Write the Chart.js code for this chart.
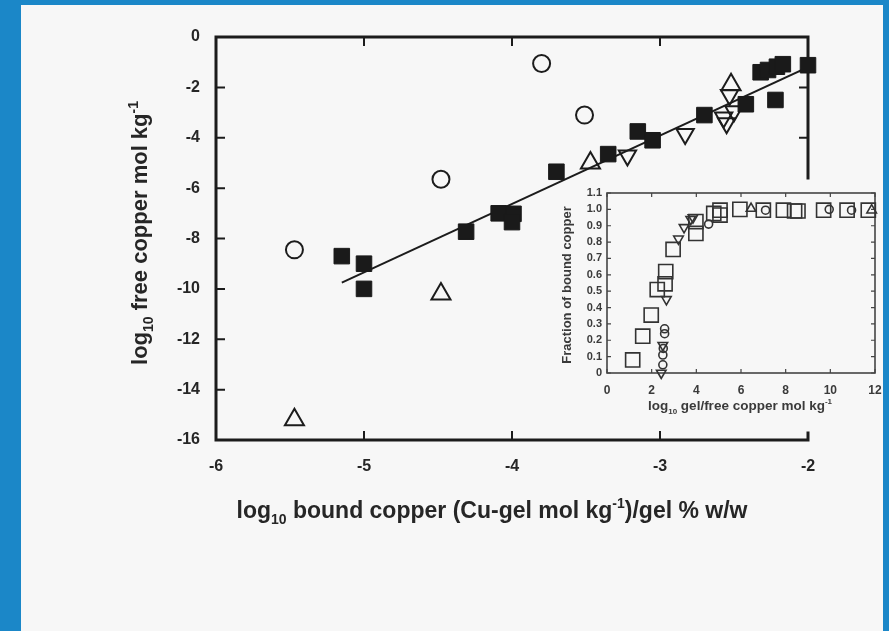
<!DOCTYPE html>
<html>
<head>
<meta charset="utf-8">
<script src="https://cdn.jsdelivr.net/npm/chart.js@4.4.1/dist/chart.umd.min.js"></script>
<style>
  html, body { margin: 0; padding: 0; }
  body { width: 889px; height: 631px; background: #1b87c8; position: relative; overflow: hidden; }
  #paper { position: absolute; left: 21px; top: 5px; width: 862px; height: 626px; background: #f7f7f7; }
  #main { position: absolute; left: 0; top: 0; }
  #inset { position: absolute; left: 550px; top: 178px; }
</style>
</head>
<body>
<div id="paper"></div>
<canvas id="main" width="889" height="631"></canvas>
<canvas id="inset" width="360" height="242"></canvas>
<script>
// ---- main plot data (log10 bound copper vs log10 free copper) ----
const squareX = [-5.15, -5.0, -5.0, -4.31, -4.09, -3.99, -4.0, -3.70, -3.35, -3.15, -3.05, -2.70, -2.42, -2.22, -2.32, -2.27, -2.21, -2.17, -2.0];
const squareY = [-8.7, -9.0, -10.0, -7.73, -7.0, -7.02, -7.35, -5.35, -4.65, -3.75, -4.1, -3.1, -2.67, -2.5, -1.4, -1.31, -1.18, -1.08, -1.12];
const circleX = [-5.47, -4.48, -3.80, -3.51];
const circleY = [-8.45, -5.65, -1.05, -3.10];
const upTriX = [-5.47, -4.48, -3.47, -2.52];
const upTriY = [-15.2, -10.2, -5.0, -1.9];
const downTriX = [-3.22, -2.83, -2.57, -2.55, -2.50, -2.53];
const downTriY = [-4.7, -3.85, -3.2, -3.42, -2.95, -2.3];
const fitX = [-5.15, -2.0];
const fitY = [-9.75, -1.2];

// ---- inset data (fraction of bound copper) ----
const inSquareX = [1.15, 1.6, 1.98, 2.25, 2.6, 2.63, 2.96, 3.98, 3.98, 4.78, 5.06, 5.06, 5.95, 7.0, 7.9, 8.4, 8.55, 9.7, 10.75, 11.7];
const inSquareY = [0.08, 0.225, 0.354, 0.51, 0.545, 0.62, 0.755, 0.853, 0.925, 0.975, 0.965, 0.995, 1.0, 0.995, 0.995, 0.99, 0.99, 0.995, 0.995, 0.995];
const inCircleX = [2.5, 2.5, 2.52, 2.58, 2.58, 4.55, 7.1, 9.95, 10.95];
const inCircleY = [0.05, 0.11, 0.15, 0.24, 0.27, 0.91, 0.995, 1.0, 0.995];
const inDownX = [2.43, 2.5, 2.66, 3.2, 3.45, 3.75, 3.85];
const inDownY = [0.0, 0.17, 0.45, 0.82, 0.89, 0.94, 0.95];
const inUpX = [6.45, 11.85];
const inUpY = [1.005, 0.995];

const mainXTicks = [-6, -5, -4, -3, -2];
const mainYTicks = [0, -2, -4, -6, -8, -10, -12, -14, -16];
const insetXTicks = [0, 2, 4, 6, 8, 10, 12];

const FONT = '"Liberation Sans", Arial, sans-serif';
const INK = '#1c1c1c';
const TEXT = '#262626';
const INSET_INK = '#444';

const pts = (xs, ys) => xs.map((x, i) => ({ x: x, y: ys[i] }));

// draws text with subscript / superscript pieces
function drawRich(ctx, parts, size, x, y, color) {
  const small = Math.round(size * 0.62);
  let w = 0;
  parts.forEach(([t, k]) => {
    ctx.font = 'bold ' + (k ? small : size) + 'px ' + FONT;
    w += ctx.measureText(t).width;
  });
  let cx = x - w / 2;
  ctx.fillStyle = color;
  ctx.textBaseline = 'alphabetic';
  ctx.textAlign = 'left';
  parts.forEach(([t, k]) => {
    ctx.font = 'bold ' + (k ? small : size) + 'px ' + FONT;
    const dy = k === 1 ? size * 0.28 : k === 2 ? -size * 0.42 : 0;
    ctx.fillText(t, cx, y + dy);
    cx += ctx.measureText(t).width;
  });
}

const mainFrame = {
  id: 'mainFrame',
  beforeDatasetsDraw(chart) {
    const { ctx, chartArea: a, scales: { x, y } } = chart;
    ctx.save();
    ctx.strokeStyle = INK;
    ctx.lineWidth = 3;
    ctx.lineCap = 'square';
    ctx.beginPath();
    ctx.moveTo(a.right, y.getPixelForValue(-5.6));
    ctx.lineTo(a.right, a.top);
    ctx.lineTo(a.left, a.top);
    ctx.lineTo(a.left, a.bottom);
    ctx.lineTo(a.right, a.bottom);
    ctx.lineTo(a.right, a.bottom - 7);
    ctx.stroke();
    ctx.lineWidth = 2;
    ctx.beginPath();
    mainYTicks.slice(1, -1).forEach(v => {
      const py = y.getPixelForValue(v);
      ctx.moveTo(a.left, py); ctx.lineTo(a.left + 8, py);
    });
    [-2, -4].forEach(v => {
      const py = y.getPixelForValue(v);
      ctx.moveTo(a.right, py); ctx.lineTo(a.right - 8, py);
    });
    mainXTicks.slice(1, -1).forEach(v => {
      const px = x.getPixelForValue(v);
      ctx.moveTo(px, a.top); ctx.lineTo(px, a.top + 8);
      ctx.moveTo(px, a.bottom); ctx.lineTo(px, a.bottom - 8);
    });
    ctx.stroke();
    ctx.restore();
  },
  afterDraw(chart) {
    const ctx = chart.ctx;
    ctx.save();
    drawRich(ctx, [['log', 0], ['10', 1], [' bound copper (Cu-gel mol kg', 0], ['-1', 2], [')/gel % w/w', 0]], 23, 492, 518, TEXT);
    ctx.translate(147, 233);
    ctx.rotate(-Math.PI / 2);
    drawRich(ctx, [['log', 0], ['10', 1], [' free copper mol kg', 0], ['-1', 2]], 22, 0, 0, TEXT);
    ctx.restore();
  }
};

const insetFrame = {
  id: 'insetFrame',
  beforeDatasetsDraw(chart) {
    const { ctx, chartArea: a, scales: { x, y } } = chart;
    ctx.save();
    ctx.strokeStyle = INSET_INK;
    ctx.lineWidth = 1.6;
    ctx.strokeRect(a.left, a.top, a.right - a.left, a.bottom - a.top);
    ctx.lineWidth = 1.2;
    ctx.beginPath();
    y.ticks.forEach(t => {
      const py = y.getPixelForValue(t.value);
      ctx.moveTo(a.left, py); ctx.lineTo(a.left + 4, py);
      ctx.moveTo(a.right, py); ctx.lineTo(a.right - 4, py);
    });
    insetXTicks.forEach(v => {
      const px = x.getPixelForValue(v);
      ctx.moveTo(px, a.bottom); ctx.lineTo(px, a.bottom - 4);
      ctx.moveTo(px, a.top); ctx.lineTo(px, a.top + 4);
    });
    ctx.stroke();
    ctx.restore();
  },
  afterDraw(chart) {
    const ctx = chart.ctx;
    ctx.save();
    drawRich(ctx, [['log', 0], ['10', 1], [' gel/free copper mol kg', 0], ['-1', 2]], 13.5, 190, 232, '#3a3a3a');
    ctx.translate(21, 107);
    ctx.rotate(-Math.PI / 2);
    drawRich(ctx, [['Fraction of bound copper', 0]], 13, 0, 0, '#3a3a3a');
    ctx.restore();
  }
};

const openMark = (label, data, style, r, extra) => Object.assign({
  label: label,
  data: data,
  pointStyle: style,
  pointRadius: r,
  backgroundColor: 'rgba(0,0,0,0)',
  borderColor: INK,
  borderWidth: 2,
  clip: false
}, extra || {});

// scale boxes get a fixed size so that the plot area lands where the figure has it
new Chart(document.getElementById('main'), {
  type: 'scatter',
  data: {
    datasets: [
      {
        label: 'Cu-gel',
        data: pts(squareX, squareY),
        pointStyle: 'rect',
        pointRadius: 11,
        backgroundColor: '#1a1a1a',
        borderColor: '#1a1a1a',
        borderWidth: 1,
        clip: false
      },
      openMark('circles', pts(circleX, circleY), 'circle', 8.5),
      openMark('up', pts(upTriX, upTriY), 'triangle', 11),
      openMark('down', pts(downTriX, downTriY), 'triangle', 10, { rotation: 180 }),
      {
        label: 'fit',
        data: pts(fitX, fitY),
        showLine: true,
        borderColor: INK,
        borderWidth: 2,
        pointRadius: 0
      }
    ]
  },
  options: {
    responsive: false,
    devicePixelRatio: 1,
    animation: false,
    events: [],
    layout: { padding: { left: 146, right: 81, top: 37, bottom: 141 } },
    plugins: { legend: { display: false }, tooltip: { enabled: false } },
    scales: {
      x: {
        type: 'linear', min: -6, max: -2,
        grid: { display: false, drawTicks: false },
        border: { display: false },
        ticks: { stepSize: 1, padding: 17, color: TEXT, font: { family: FONT, size: 16, weight: 'bold' }, autoSkip: false, maxRotation: 0 },
        afterFit(s) { s.height = 50; }
      },
      y: {
        type: 'linear', min: -16, max: 0,
        grid: { display: false, drawTicks: false },
        border: { display: false },
        ticks: { stepSize: 2, padding: 16, color: TEXT, font: { family: FONT, size: 16, weight: 'bold' }, autoSkip: false },
        afterFit(s) { s.width = 70; }
      }
    }
  },
  plugins: [mainFrame]
});

const insetOpen = (label, data, style, r, extra) => Object.assign({
  label: label,
  data: data,
  pointStyle: style,
  pointRadius: r,
  backgroundColor: 'rgba(0,0,0,0)',
  borderColor: '#333',
  borderWidth: 1.6,
  clip: false
}, extra || {});

new Chart(document.getElementById('inset'), {
  type: 'scatter',
  data: {
    datasets: [
      insetOpen('squares', pts(inSquareX, inSquareY), 'rect', 10),
      insetOpen('circles', pts(inCircleX, inCircleY), 'circle', 4),
      insetOpen('down', pts(inDownX, inDownY), 'triangle', 5.5, { rotation: 180 }),
      insetOpen('up', pts(inUpX, inUpY), 'triangle', 5.5)
    ]
  },
  options: {
    responsive: false,
    devicePixelRatio: 1,
    animation: false,
    events: [],
    layout: { padding: { left: 22, right: 35, top: 15, bottom: 22 } },
    plugins: { legend: { display: false }, tooltip: { enabled: false } },
    scales: {
      x: {
        type: 'linear', min: 0, max: 12,
        grid: { display: false, drawTicks: false },
        border: { display: false },
        ticks: { stepSize: 2, padding: 10, color: '#3a3a3a', font: { family: FONT, size: 12, weight: 'bold' }, autoSkip: false, maxRotation: 0 },
        afterFit(s) { s.height = 25; }
      },
      y: {
        type: 'linear', min: 0, max: 1.1,
        grid: { display: false, drawTicks: false },
        border: { display: false },
        ticks: {
          stepSize: 0.1, padding: 5, color: '#3a3a3a', autoSkip: false,
          font: { family: FONT, size: 11, weight: 'bold' },
          callback: v => (Math.abs(v) < 1e-9 ? '0' : v.toFixed(1))
        },
        afterFit(s) { s.width = 35; }
      }
    }
  },
  plugins: [insetFrame]
});
</script>
</body>
</html>
